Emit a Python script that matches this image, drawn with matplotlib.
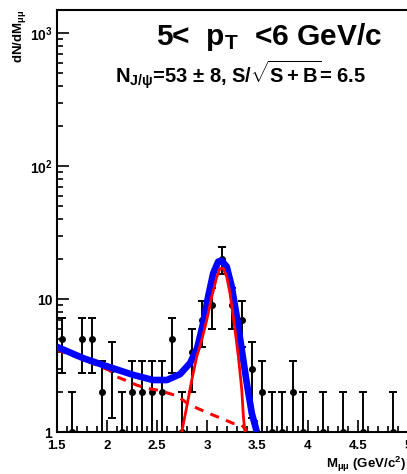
import matplotlib
matplotlib.use("Agg")
import matplotlib.pyplot as plt
import numpy as np
from matplotlib.ticker import FixedLocator, NullFormatter, MultipleLocator

plt.rcParams['font.family'] = ['Liberation Sans', 'DejaVu Sans']
plt.rcParams['font.weight'] = 'bold'
plt.rcParams['mathtext.fontset'] = 'custom'
plt.rcParams['mathtext.rm'] = 'Liberation Sans:bold'
plt.rcParams['mathtext.bf'] = 'Liberation Sans:bold'
plt.rcParams['mathtext.it'] = 'Liberation Sans:bold'
plt.rcParams['mathtext.sf'] = 'Liberation Sans:bold'

# histogram: bin centres (GeV/c^2) and counts
mass = [1.55, 1.65, 1.75, 1.85, 1.95, 2.05, 2.15, 2.25, 2.35, 2.45, 2.55, 2.65,
        2.75, 2.85, 2.95, 3.05, 3.15, 3.25, 3.35, 3.45, 3.55, 3.65, 3.75, 3.85,
        3.95, 4.15, 4.35, 4.55, 4.85]
counts = [5, 1, 5, 5, 2, 3, 1, 2, 2, 2, 2, 5,
          1, 4, 7, 9, 20, 9, 7, 3, 2, 1, 1, 2,
          1, 1, 1, 1, 1]

# total fit (blue)
fit_x = [1.50, 1.77, 2.03, 2.27, 2.46, 2.60, 2.73, 2.83, 2.90, 2.96, 3.01, 3.06,
         3.11, 3.145, 3.195, 3.245, 3.295, 3.345, 3.395, 3.445, 3.495]
fit_y = [4.38, 3.58, 3.07, 2.68, 2.46, 2.46, 2.72, 3.3, 4.26, 6.56, 10.4, 15.6,
         19.1, 19.4, 17.5, 12.4, 7.36, 4.14, 2.32, 1.38, 1.0]

# signal peak (red solid)
sig_x = [2.747, 2.797, 2.847, 2.896, 2.946, 2.996, 3.046, 3.096, 3.128, 3.161,
         3.195, 3.228, 3.278, 3.311, 3.345, 3.361, 3.377]
sig_y = [1.0, 1.55, 2.46, 3.68, 4.92, 6.95, 10.4, 14.7, 17.0, 17.0,
         14.7, 11.0, 5.84, 3.68, 2.07, 1.30, 1.0]

# background (red dashed)
bkg_x = [1.50, 1.77, 2.03, 2.10, 2.18, 2.30, 2.40, 2.50, 2.60, 2.70, 2.80, 2.90,
         3.06, 3.16, 3.26, 3.345, 3.40]
bkg_y = [4.15, 3.5, 2.9, 2.6, 2.46, 2.25, 2.13, 2.07, 1.97, 1.87, 1.65, 1.51,
         1.34, 1.25, 1.16, 1.13, 1.0]

W, H = 407, 474
fig = plt.figure(figsize=(W / 100, H / 100), dpi=100)
ax = fig.add_axes([56.5 / W, 42 / H, 351.5 / W, 422 / H])

y = np.array(counts, dtype=float)
err = np.sqrt(y)
lo = np.minimum(err, y - 1e-3)
ax.errorbar(mass, y, yerr=[lo, err], fmt='o', color='black', ms=4,
            elinewidth=1.4, capsize=3, capthick=1.4, zorder=1)

ax.plot(bkg_x, bkg_y, color='red', lw=2.2, ls=(0, (3, 2.5)), zorder=2)
ax.plot(fit_x, fit_y, color='blue', lw=4.8, solid_joinstyle='round',
        solid_capstyle='butt', zorder=3)
ax.plot(sig_x, sig_y, color='red', lw=2, zorder=4)

ax.set_yscale('log')
ax.set_xlim(1.5, 5.0)
ax.set_ylim(1, 1490)

ax.yaxis.set_major_locator(FixedLocator([1, 10, 100, 1000]))
ax.set_yticklabels(['1', '10', r'$10^{2}$', r'$10^{3}$'])
minors = [m * d for d in (1, 10, 100) for m in range(2, 10)]
ax.yaxis.set_minor_locator(FixedLocator(minors))
ax.yaxis.set_minor_formatter(NullFormatter())

ax.set_xticks([1.5, 2, 2.5, 3, 3.5, 4, 4.5, 5])
ax.set_xticklabels(['1.5', '2', '2.5', '3', '3.5', '4', '4.5', '5'])
ax.xaxis.set_minor_locator(MultipleLocator(0.1))

ax.tick_params(which='both', direction='in', top=False, right=False, width=1.2)
ax.tick_params(which='major', length=8.5)
ax.tick_params(which='minor', length=4.5)
ax.tick_params(axis='x', pad=5.5, labelsize=9.5)
ax.tick_params(axis='y', pad=3, labelsize=10)
for s in ax.spines.values():
    s.set_linewidth(1.5)

ax.text(0.605, 0.917, r'5<  p$_{\mathbf{T}}$  <6 GeV/c', transform=ax.transAxes,
        ha='center', va='baseline', fontsize=21.5, fontweight='bold')
ax.text(0.525, 0.827, r'N$_{\mathbf{J/\psi}}$=53 $\pm$ 8, S/$\sqrt{\mathbf{S+B}}$= 6.5',
        transform=ax.transAxes, ha='center', va='baseline', fontsize=14.5,
        fontweight='bold')

fig.text(19 / W, 1 - 10 / H, r'dN/dM$_{\mu\mu}$', rotation=90, ha='center',
         va='top', fontsize=9.5, fontweight='bold')
fig.text(406 / W, 0.5 / H, r'M$_{\mu\mu}$ (GeV/c$^{\mathbf{2}}$)', ha='right',
         va='bottom', fontsize=9.5, fontweight='bold')

fig.savefig('out.png', dpi=100)
